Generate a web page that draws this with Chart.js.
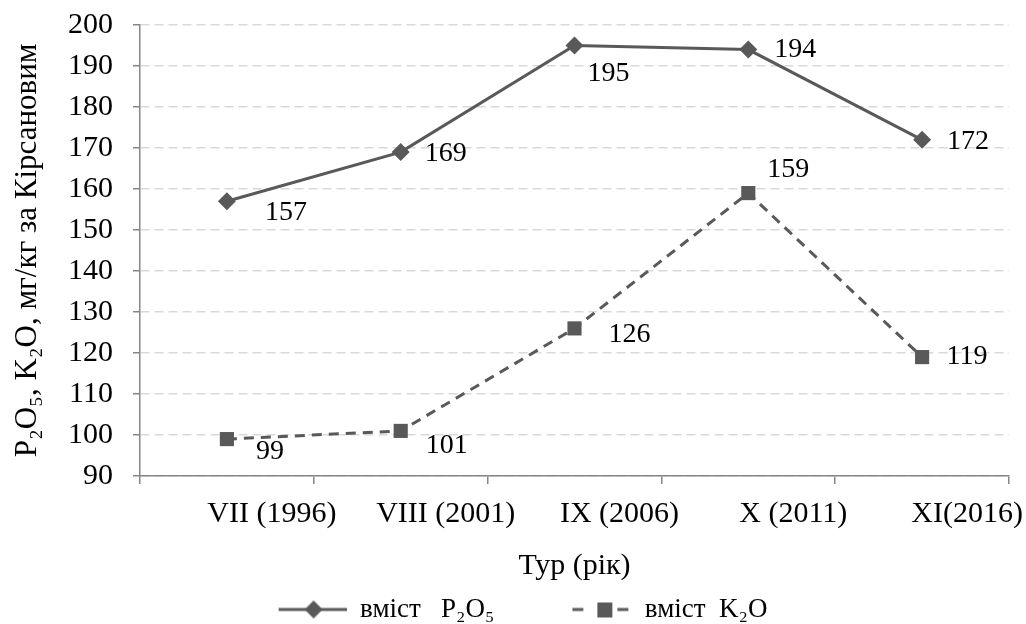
<!DOCTYPE html>
<html>
<head>
<meta charset="utf-8">
<script src="https://cdn.jsdelivr.net/npm/chart.js@4/dist/chart.umd.min.js"></script>
<style>
  html, body { margin: 0; padding: 0; background: #ffffff; }
  #wrap { width: 1026px; height: 624px; }
</style>
</head>
<body>
<div id="wrap"><canvas id="chart" width="1026" height="624"></canvas></div>
<script>
// Survey rounds and soil content of mobile phosphorus and potassium
const tours = ['VII (1996)', 'VIII (2001)', 'IX (2006)', 'X (2011)', 'XI(2016)'];
const p2o5 = [157, 169, 195, 194, 172];
const k2o = [99, 101, 126, 159, 119];
const yMin = 90;
const yMax = 200;
const yStep = 10;
const seriesNames = ['вміст   P₂O₅', 'вміст  K₂O'];

const FONT = '"Liberation Serif", "Times New Roman", "DejaVu Serif", serif';
const INK = '#595959';
const AXIS = '#868686';

// where each value label sits relative to its marker
const p2o5Shift = [[59, 11], [45, 2], [34, 28], [47, 0], [46, 2]];
const k2oShift = [[43, 13], [46, 15], [55, 6], [40, -23], [45, 0]];

// legend glyphs: line + marker, drawn at the right end of a wider transparent box
const GLYPH_BOX = 135;
function legendGlyph(kind) {
  const c = document.createElement('canvas');
  c.width = GLYPH_BOX; c.height = 22;
  const g = c.getContext('2d');
  g.strokeStyle = INK; g.fillStyle = INK; g.lineWidth = 3;
  const cy = 11;
  if (kind === 'diamond') {
    const x0 = GLYPH_BOX - 68;
    g.beginPath(); g.moveTo(x0, cy); g.lineTo(GLYPH_BOX, cy); g.stroke();
    const cx = x0 + 35;
    g.beginPath();
    g.moveTo(cx, cy - 9); g.lineTo(cx + 9, cy); g.lineTo(cx, cy + 9); g.lineTo(cx - 9, cy);
    g.closePath(); g.fill();
  } else {
    const x0 = GLYPH_BOX - 59;
    g.beginPath();
    g.moveTo(x0, cy); g.lineTo(x0 + 11, cy);
    g.moveTo(x0 + 45, cy); g.lineTo(x0 + 56, cy);
    g.stroke();
    g.fillRect(x0 + 25, cy - 7, 15, 15);
  }
  return c;
}
const glyphs = [legendGlyph('diamond'), legendGlyph('square')];

const valueLabels = {
  id: 'valueLabels',
  afterDatasetsDraw(chart) {
    const ctx = chart.ctx;
    ctx.save();
    ctx.font = '28px ' + FONT;
    ctx.fillStyle = '#000000';
    ctx.textAlign = 'center';
    ctx.textBaseline = 'middle';
    chart.data.datasets.forEach((ds, di) => {
      const meta = chart.getDatasetMeta(di);
      meta.data.forEach((pt, i) => {
        const s = ds.labelShift[i];
        ctx.fillText(String(ds.data[i]), pt.x + s[0], pt.y + s[1]);
      });
    });
    ctx.restore();
  }
};

// the legend row sits a little left of the canvas centre
const legendNudge = {
  id: 'legendNudge',
  afterLayout(chart) {
    if (chart.legend) {
      chart.legend.left -= 15;
      chart.legend.right -= 15;
    }
  }
};

new Chart(document.getElementById('chart'), {
  type: 'line',
  data: {
    labels: tours,
    datasets: [
      {
        label: seriesNames[0],
        data: p2o5,
        labelShift: p2o5Shift,
        borderColor: INK,
        backgroundColor: INK,
        borderWidth: 3,
        pointStyle: 'rectRot',
        pointRadius: 9,
        pointHoverRadius: 9,
        pointBorderWidth: 0,
        pointBackgroundColor: INK,
        tension: 0
      },
      {
        label: seriesNames[1],
        data: k2o,
        labelShift: k2oShift,
        borderColor: INK,
        backgroundColor: INK,
        borderWidth: 3,
        borderDash: [10, 7],
        pointStyle: 'rect',
        pointRadius: 10,
        pointHoverRadius: 10,
        pointBorderWidth: 0,
        pointBackgroundColor: INK,
        tension: 0
      }
    ]
  },
  options: {
    responsive: false,
    devicePixelRatio: 1,
    animation: false,
    layout: { padding: { left: 0, right: 17, top: 0, bottom: -9 } },
    plugins: {
      tooltip: { enabled: false },
      legend: {
        position: 'bottom',
        labels: {
          color: '#000000',
          font: { family: FONT, size: 27 },
          usePointStyle: true,
          pointStyleWidth: GLYPH_BOX,
          padding: 2,
          generateLabels(chart) {
            return chart.data.datasets.map((ds, i) => ({
              text: ds.label,
              pointStyle: glyphs[i],
              fillStyle: INK,
              strokeStyle: INK,
              lineWidth: 0,
              fontColor: '#000000',
              hidden: false,
              datasetIndex: i
            }));
          }
        }
      }
    },
    scales: {
      x: {
        type: 'category',
        offset: true,
        border: { display: true, color: AXIS, width: 1.5 },
        grid: {
          offset: true,
          drawOnChartArea: false,
          drawTicks: true,
          tickLength: 8,
          tickColor: AXIS,
          lineWidth: 1.5
        },
        ticks: {
          color: '#000000',
          font: { family: FONT, size: 30 },
          padding: 12,
          labelOffset: 45,
          maxRotation: 0,
          autoSkip: false
        },
        title: {
          display: true,
          text: 'Тур (рік)',
          color: '#000000',
          font: { family: FONT, size: 30 },
          padding: { top: 16, bottom: 10 }
        },
        afterFit(scale) { scale.height = 118; }
      },
      y: {
        min: yMin,
        max: yMax,
        border: { display: true, color: AXIS, width: 1.5, dash: [9, 5] },
        grid: {
          color: '#d9d9d9',
          lineWidth: 1.5,
          drawTicks: true,
          tickLength: 7,
          tickColor: AXIS,
          tickWidth: 1.5
        },
        ticks: {
          stepSize: yStep,
          autoSkip: false,
          color: '#000000',
          font: { family: FONT, size: 30 },
          padding: 20
        },
        title: {
          display: true,
          text: 'P₂O₅, K₂O, мг/кг за Кірсановим',
          color: '#000000',
          font: { family: FONT, size: 31 },
          padding: { top: 9, bottom: 0 }
        },
        afterFit(scale) {
          scale.width = 140;
          scale.paddingTop = 25;
          scale.paddingBottom = 0;
        }
      }
    }
  },
  plugins: [valueLabels, legendNudge]
});
</script>
</body>
</html>
